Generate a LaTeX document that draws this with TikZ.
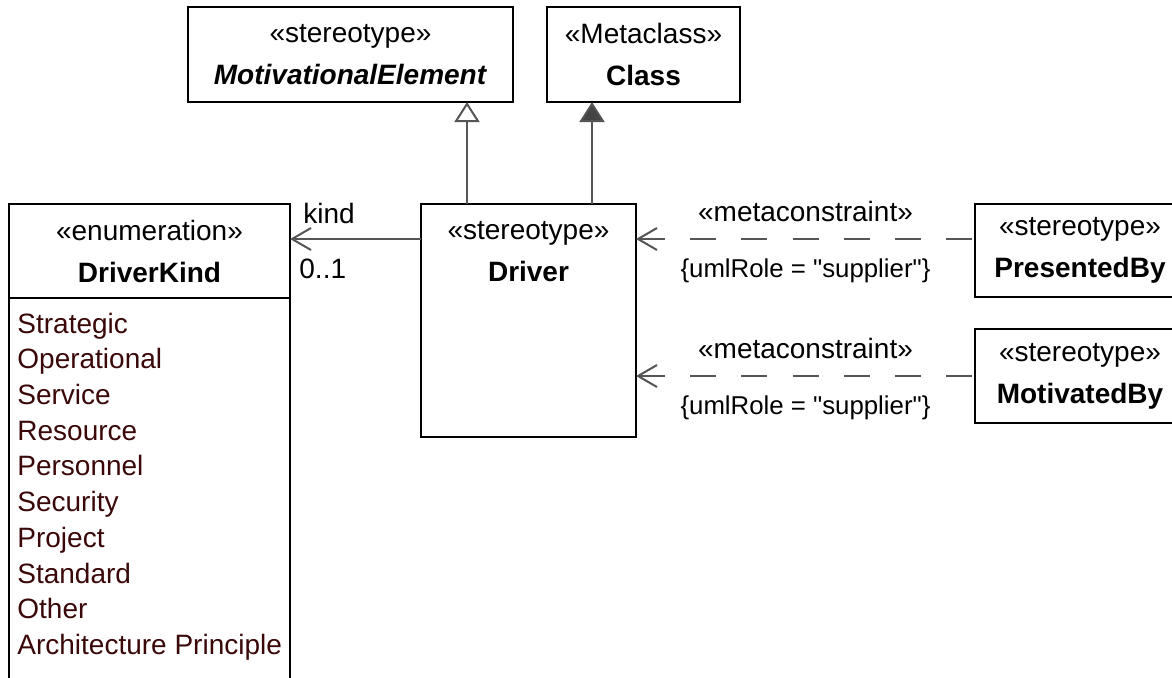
\documentclass[tikz,border=0pt]{standalone}
\usepackage{fontspec}
\setmainfont{Liberation Sans}
\usetikzlibrary{arrows.meta,positioning}
\definecolor{edgegray}{HTML}{555555}
\definecolor{tipgray}{HTML}{444444}
\definecolor{literalbrown}{HTML}{3A0808}
\tikzset{
  umlbox/.style={draw, line width=1.1pt, outer sep=0pt, minimum height=47pt, inner sep=0pt, align=center, font=\fontsize{14}{21}\selectfont},
  boxtext/.style={minimum height=47pt, inner sep=0pt, align=center, font=\fontsize{14}{21}\selectfont},
  literals/.style={inner sep=0pt, align=left, text=literalbrown, font=\fontsize{14}{17.85}\selectfont},
  rolelabel/.style={inner sep=0pt, text=black, font=\fontsize{14}{17}\selectfont},
  constraintlabel/.style={inner sep=0pt, text=black, font=\fontsize{12.9}{16}\selectfont},
  genedge/.style={line width=1pt, edgegray, -{Triangle[open, length=10pt, width=12.5pt]}},
  extedge/.style={line width=1pt, edgegray, -{Triangle[length=10pt, width=12.5pt, fill=tipgray]}},
  assocedge/.style={line width=1pt, edgegray, -{Straight Barb[length=9.5pt, width=11pt]}},
  metaedge/.style={line width=1pt, edgegray, dash pattern=on 13pt off 12.6pt, {Straight Barb[length=9.5pt, width=11pt]}-}
}
\begin{document}
\begin{tikzpicture}[x=0.5pt, y=-0.5pt]
  \clip (0,0) rectangle (1172,677);
  \node[umlbox, minimum width=162.5pt, minimum height=47.5pt] (me) at (350.5,54.5) {«stereotype»\\\textbf{\textit{MotivationalElement}}};
  \node[umlbox, minimum width=96.5pt, minimum height=47.5pt] (cls) at (643.5,54.5) {«Metaclass»\\\textbf{Class}};

  \node[umlbox, minimum width=107.5pt, minimum height=116.5pt] (drv) at (528.5,320.5) {};
  \node[boxtext, below=0pt of drv.north] (drvtext) {«stereotype»\\\textbf{Driver}};

  \node[umlbox, minimum width=140.5pt] (dkhead) at (149.5,251) {«enumeration»\\\textbf{DriverKind}};
  \node[umlbox, minimum width=140.5pt, minimum height=201pt, below=0pt of dkhead] (dkbody) {};
  \node[literals, below right=7.2pt and 4pt of dkbody.north west] (dklits) {Strategic\\Operational\\Service\\Resource\\Personnel\\Security\\Project\\Standard\\Other\\Architecture Principle};

  \node[umlbox, minimum width=105pt, minimum height=46.5pt] (presby) at (1080,250.5) {«stereotype»\\\textbf{PresentedBy}};
  \node[umlbox, minimum width=105pt] (motby) at (1080,376) {«stereotype»\\\textbf{MotivatedBy}};

  \draw[genedge] (drv.north -| 467,0) -- (me.south -| 467,0);
  \draw[extedge] (drv.north -| 592,0) -- (cls.south -| 592,0);
  \draw[assocedge] (drv.west |- 0,239) -- (dkhead.east |- 0,239);
  \node[rolelabel, anchor=base west] (rolekind) at (303,223) {kind};
  \node[rolelabel, anchor=base west] (rolemult) at (299,278) {0..1};

  \draw[metaedge] (drv.east |- 0,239) -- node[rolelabel, above=8pt] (mc1) {«metaconstraint»} node[constraintlabel, below=9.5pt] (mr1) {\{umlRole = \textquotedbl supplier\textquotedbl\}} (presby.west |- 0,239);
  \draw[metaedge] (drv.east |- 0,376) -- node[rolelabel, above=8pt] (mc2) {«metaconstraint»} node[constraintlabel, below=9.5pt] (mr2) {\{umlRole = \textquotedbl supplier\textquotedbl\}} (motby.west |- 0,376);
\end{tikzpicture}
\end{document}
